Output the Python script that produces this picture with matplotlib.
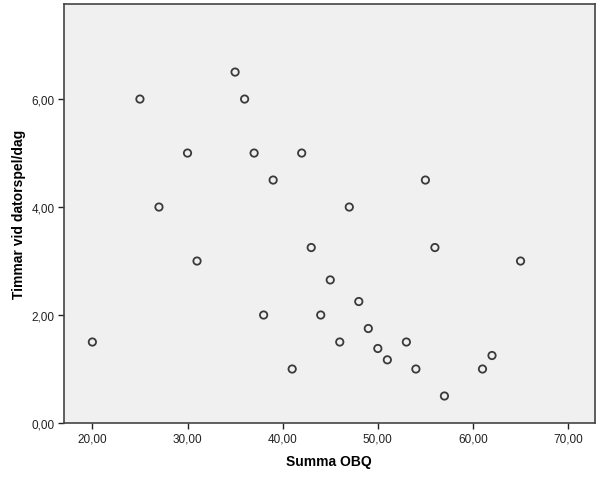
import matplotlib
matplotlib.use("Agg")
import matplotlib.pyplot as plt
from matplotlib.ticker import FuncFormatter

plt.rcParams['font.family'] = ['Liberation Sans', 'DejaVu Sans']

summa_obq = [20, 25, 27, 30, 31, 35, 36, 37, 38, 39, 41, 42, 43, 44, 45, 46, 47,
             48, 49, 50, 51, 53, 54, 55, 56, 57, 61, 62, 65]
timmar = [1.5, 6.0, 4.0, 5.0, 3.0, 6.5, 6.0, 5.0, 2.0, 4.5, 1.0, 5.0, 3.25, 2.0,
          2.65, 1.5, 4.0, 2.25, 1.75, 1.38, 1.17, 1.5, 1.0, 4.5, 3.25, 0.5, 1.0,
          1.25, 3.0]
x_ticks = [20, 30, 40, 50, 60, 70]
y_ticks = [0, 2, 4, 6]

fig = plt.figure(figsize=(6.02, 4.81), dpi=100)
ax = fig.add_axes([0.106, 0.1185, 0.882, 0.871])
ax.set_facecolor('#f0f0f0')
ax.scatter(summa_obq, timmar, s=28, facecolors='none', edgecolors='#3a3a3a',
           linewidths=1.3, zorder=3)
ax.set_xlim(17.0, 72.8)
ax.set_ylim(0, 7.76)
ax.set_xticks(x_ticks)
ax.set_yticks(y_ticks)
fmt = FuncFormatter(lambda v, p: f"{v:.2f}".replace('.', ','))
ax.xaxis.set_major_formatter(fmt)
ax.yaxis.set_major_formatter(fmt)
ax.tick_params(direction='out', length=4.5, width=1, colors='#222222',
               labelsize=8.5, labelcolor='#222222', pad=2)
for sp in ax.spines.values():
    sp.set_color('#444444')
    sp.set_linewidth(1.2)
ax.set_xlabel('Summa OBQ', fontsize=10, fontweight='bold', labelpad=7)
ax.set_ylabel('Timmar vid datorspel/dag', fontsize=10, fontweight='bold', labelpad=4)
fig.savefig('out.png', dpi=100, facecolor='white')
